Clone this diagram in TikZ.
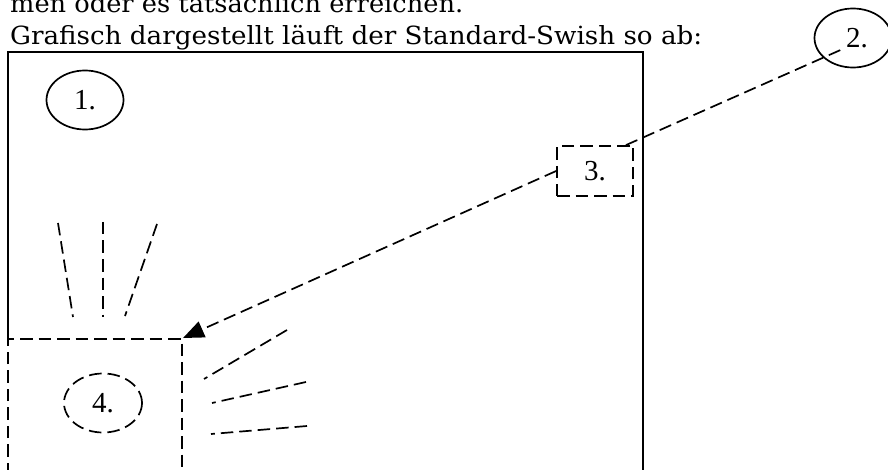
\documentclass[tikz,border=0pt]{standalone}
\usepackage{fontspec}
\usepackage{graphicx}
\usetikzlibrary{arrows.meta,shapes.geometric,calc}
\newfontfamily\bodyfont{DejaVu Serif}
\newfontfamily\numfont{Liberation Serif}
\tikzset{
  solidline/.style={line width=1.8pt},
  dashline/.style={line width=1.7pt, dash pattern=on 12.5pt off 6pt},
  numtext/.style={font=\numfont\fontsize{29}{33}\selectfont},
  oval/.style={ellipse, draw, line width=1.7pt, minimum width=77pt, minimum height=59pt, inner sep=0pt, numtext},
  dashbox/.style={rectangle, draw, dashline, minimum width=76pt, minimum height=50pt, inner sep=0pt, numtext},
  bodytext/.style={anchor=base west, inner sep=0pt, font=\bodyfont\fontsize{25}{30}\selectfont}
}
\begin{document}
\begin{tikzpicture}[x=1pt,y=-1pt]
\useasboundingbox (0,0) rectangle (888,470);
\clip (0,0) rectangle (888,470);
% text
\node[bodytext] (l1) at (10,13) {\resizebox{453pt}{\height}{men oder es tatsächlich erreichen.}};
\node[bodytext] (l2) at (10,45) {\resizebox{692pt}{\height}{Grafisch dargestellt läuft der Standard-Swish so ab:}};
% outer frame
\draw[solidline] (8,339) -- (8,52) -- (643,52) -- (643,475);
% box 4
\draw[dashline] (8,475) -- (8,339) -- (182,339) -- (182,475);
\coordinate (c4) at (183,338);
% ovals
\node[oval] (e1) at (85,100) {1.};
\node[oval] (e2) at (853,38) {\hspace{8pt}2.};
\node[oval, dashline, minimum width=78pt, minimum height=59pt] (e4) at (103,403) {4.};
% box 3
\node[dashbox] (b3) at (595,171) {3.};
% connectors
\coordinate (e2tip) at (845,48);
\draw[dashline] ($(b3.north east)+(-8,0)$) -- (e2tip);
\draw[dashline, -{Triangle[length=21pt,width=17pt]}] (b3.west) -- (c4);
% rays above box 4
\draw[dashline] (58,223) -- (73,317);
\draw[dashline] (103,222) -- (103,317);
\draw[dashline] (157,224) -- (125,316);
% rays right of box 4
\draw[dashline] (287,330) -- (204,379);
\draw[dashline] (306,382) -- (212,403);
\draw[dashline] (307,426) -- (211,434);
\end{tikzpicture}
\end{document}
